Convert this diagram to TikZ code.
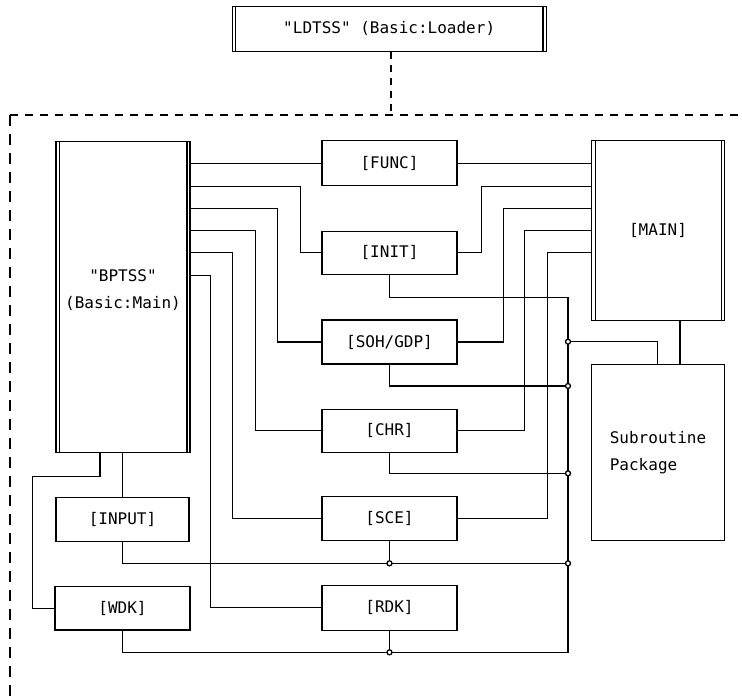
\documentclass[tikz,border=0pt]{standalone}
\usepackage{fontspec}
\newfontfamily\dmono{DejaVu Sans Mono}
\begin{document}
\begin{tikzpicture}[x=1pt,y=-1pt,
  txt/.style={font=\dmono\fontsize{16}{26.5}\selectfont, align=center, inner sep=0pt},
  box/.style={draw, line width=1.1pt, txt},
  wire/.style={line width=1.05pt},
  frame/.style={line width=1.1pt, dash pattern=on 8pt off 7pt},
  vframe/.style={line width=1.1pt, dash pattern=on 11pt off 8pt},
  junc/.style={circle, draw, fill=white, line width=1.3pt, inner sep=0pt, minimum size=5pt}]
\useasboundingbox (0,0) rectangle (742,697);

% boxes
\node[box, minimum width=313.7pt, minimum height=45.7pt] (ld) at (389.2,28.9) {"LDTSS" (Basic:Loader)};
\node[box, minimum width=134pt, minimum height=311pt] (bp) at (123,297.2) {};
\node[txt] (bptxt) at (123,290) {"BPTSS"\\(Basic:Main)};
\node[box, minimum width=135pt, minimum height=45pt] (func) at (389.5,163.2) {[FUNC]};
\node[box, minimum width=135pt, minimum height=42.3pt] (init) at (389.5,252.9) {[INIT]};
\node[box, minimum width=135pt, minimum height=44pt] (soh) at (389.5,342) {[SOH/GDP]};
\node[box, minimum width=135pt, minimum height=43.7pt] (chr) at (389.5,430.9) {[CHR]};
\node[box, minimum width=135pt, minimum height=44pt] (sce) at (389.5,518.7) {[SCE]};
\node[box, minimum width=135pt, minimum height=44.3pt] (rdk) at (389.5,607.9) {[RDK]};
\node[box, minimum width=133pt, minimum height=44pt] (input) at (122.5,519.7) {[INPUT]};
\node[box, minimum width=135pt, minimum height=43.3pt] (wdk) at (122.5,608.3) {[WDK]};
\node[box, minimum width=132.6pt, minimum height=179.3pt] (main) at (658,230.4) {[MAIN]};
\node[box, align=left, minimum width=132.6pt, minimum height=176.4pt] (sub) at (658,452.5) {Subroutine\\Package};

% double verticals
\foreach \n in {ld,bp,main}{
  \draw[line width=1.1pt] ([xshift=4pt]\n.north west) -- ([xshift=4pt]\n.south west);
  \draw[line width=1.1pt] ([xshift=-3.6pt]\n.north east) -- ([xshift=-3.6pt]\n.south east);
}

% dashed frame
\coordinate (fl) at (10,115);
\coordinate (fr) at (742,115);
\coordinate (fb) at (10,697);
\coordinate (ft) at (391,115);
\draw[frame] (fl) -- (fr);
\draw[vframe] (fl) -- (fb);
\draw[line width=1.1pt, dash pattern=on 7pt off 6pt] ([xshift=1.8pt]ld.south) -- (ft);

% BPTSS to middle boxes
\draw[wire] (bp.east |- func.west) -- (func.west);
\draw[wire] ([yshift=-45pt]bp.north east) -| ([xshift=-21pt]init.west) -- (init.west);
\draw[wire] ([yshift=-67.6pt]bp.north east) -| ([xshift=-44.3pt]soh.west) -- (soh.west);
\draw[wire] ([yshift=-89.3pt]bp.north east) -| ([xshift=-66.3pt]chr.west) -- (chr.west);
\draw[wire] ([yshift=-111.6pt]bp.north east) -| ([xshift=-89pt]sce.west) -- (sce.west);
\draw[wire] ([yshift=-134pt]bp.north east) -| ([xshift=-111.3pt]rdk.west) -- (rdk.west);

% middle boxes to MAIN
\draw[wire] (func.east) -- (func.east -| main.west);
\draw[wire] (init.east) -- ([xshift=24pt]init.east) |- ([yshift=-46pt]main.north west);
\draw[wire] (soh.east) -- ([xshift=45.7pt]soh.east) |- ([yshift=-68.6pt]main.north west);
\draw[wire] (chr.east) -- ([xshift=67pt]chr.east) |- ([yshift=-90.3pt]main.north west);
\draw[wire] (sce.east) -- ([xshift=89.7pt]sce.east) |- ([yshift=-112.6pt]main.north west);

% BPTSS bottom
\draw[wire] ([xshift=-23pt]bp.south) -- ++(0,23) -| ([xshift=-22pt]wdk.west) -- (wdk.west);
\draw[wire] (bp.south -| input.north) -- (input.north);

% bus
\coordinate (bustop) at (568,297.7);
\coordinate (busbot) at (568,652.3);
\coordinate (j1) at (568,341.7);
\coordinate (j2) at (568,386);
\coordinate (j3) at (568,473.3);
\coordinate (j4) at (568,563.3);
\draw[wire] (init.south) |- (bustop) -- (busbot) -| (rdk.south);
\draw[wire] (soh.south) |- (j2);
\draw[wire] (chr.south) |- (j3);
\draw[wire] (input.south) |- (j4);
\draw[wire] (sce.south) -- (sce.south |- j4);
\draw[wire] (wdk.south) |- (rdk.south |- busbot);
\draw[wire] (j1) -| ([xshift=-0.7pt]sub.north);
\draw[wire] ([xshift=22pt]main.south) -- ([xshift=22pt]main.south |- sub.north);

% junction dots
\node[junc] (d1) at (j1) {};
\node[junc] (d2) at (j2) {};
\node[junc] (d3) at (j3) {};
\node[junc] (d4) at (j4) {};
\node[junc] (d5) at (sce.south |- j4) {};
\node[junc] (d6) at (rdk.south |- busbot) {};
\end{tikzpicture}
\end{document}
